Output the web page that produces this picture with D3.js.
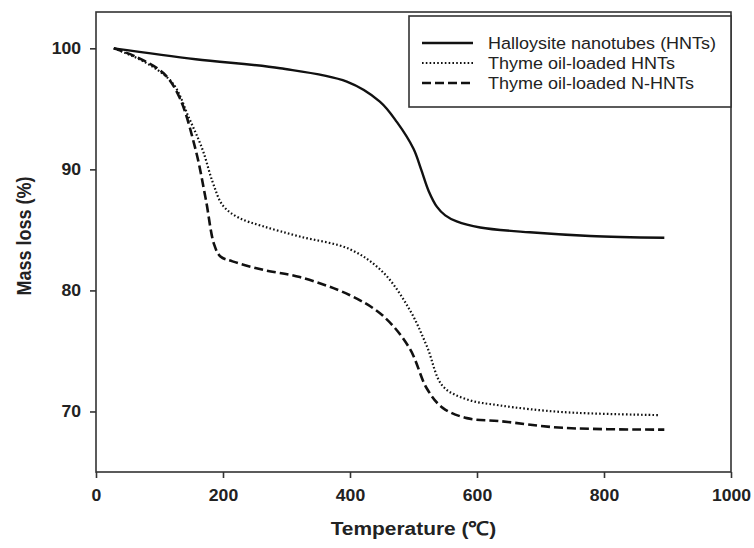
<!DOCTYPE html>
<html>
<head>
<meta charset="utf-8">
<script src="https://cdn.jsdelivr.net/npm/d3@7"></script>
<style>
  body { margin: 0; background: #fff; }
  text { font-family: Arial, "Liberation Sans", sans-serif; fill: #222; }
</style>
</head>
<body>
<svg id="chart" width="754" height="548"></svg>
<script>
// temperature (C) and mass (%)
const tHNT = [28, 157, 290, 395, 447, 474, 500, 512, 524, 537, 550, 568, 605, 683, 778, 895];
const mHNT = [100, 99.1, 98.35, 97.25, 95.6, 93.9, 91.7, 90.0, 88.2, 86.9, 86.2, 85.7, 85.2, 84.8, 84.5, 84.35];

const tOil = [28, 79, 121, 146, 168, 184, 200, 225, 263, 321, 400, 452, 494, 521, 546, 584, 636, 735, 888];
const mOil = [100, 98.8, 97.1, 94.3, 91.6, 88.9, 87.0, 86.0, 85.3, 84.45, 83.4, 81.5, 78.4, 75.4, 72.1, 71.0, 70.5, 69.95, 69.7];

const tOilN = [28, 63, 106, 131, 157, 173, 186, 196, 215, 263, 321, 400, 452, 494, 521, 546, 584, 636, 735, 895];
const mOilN = [100, 99.3, 97.96, 96.0, 91.6, 87.5, 83.8, 82.8, 82.4, 81.7, 81.1, 79.6, 77.9, 75.2, 71.9, 70.3, 69.45, 69.2, 68.65, 68.5];

const seriesNames = ['Halloysite nanotubes (HNTs)', 'Thyme oil-loaded HNTs', 'Thyme oil-loaded N-HNTs'];
const xTicks = [0, 200, 400, 600, 800, 1000];
const yTicks = [70, 80, 90, 100];

const svg = d3.select('#chart');
const pLeft = 96, pRight = 731, pTop = 12, pBottom = 472;
const stretch = 1.1; // the original picture is a bit wider than tall

const x = d3.scaleLinear().domain([0, 1000]).range([pLeft, pRight]);
const y = d3.scaleLinear().domain([65, 103]).range([pBottom, pTop]);

// frame
svg.append('rect')
  .attr('x', pLeft).attr('y', pTop)
  .attr('width', pRight - pLeft).attr('height', pBottom - pTop)
  .attr('fill', 'none').attr('stroke', '#333').attr('stroke-width', 1.6);

// axes
const xAxis = svg.append('g')
  .attr('transform', `translate(0,${pBottom})`)
  .call(d3.axisBottom(x).tickValues(xTicks).tickSize(6).tickPadding(12).tickFormat(d3.format('d')));
const yAxis = svg.append('g')
  .attr('transform', `translate(${pLeft},0)`)
  .call(d3.axisLeft(y).tickValues(yTicks).tickSize(6).tickPadding(9));
[xAxis, yAxis].forEach(g => {
  g.select('.domain').remove();
  g.selectAll('line').attr('stroke', '#333').attr('stroke-width', 1.6);
  g.selectAll('text')
    .style('font-size', '16px').style('font-weight', 'bold')
    .style('font-family', 'Arial, "Liberation Sans", sans-serif').attr('fill', '#222');
});
xAxis.selectAll('text').attr('transform', `scale(${stretch},1)`);
yAxis.selectAll('text').attr('transform', `scale(${stretch},1)`).attr('x', -15 / stretch);

// axis titles
svg.append('text')
  .attr('transform', `translate(${(pLeft + pRight) / 2},535) scale(${stretch},1)`)
  .attr('text-anchor', 'middle')
  .style('font-size', '19px').style('font-weight', 'bold')
  .text('Temperature (℃)');
svg.append('text')
  .attr('transform', `translate(31,236) rotate(-90) scale(1,${stretch})`)
  .attr('text-anchor', 'middle')
  .style('font-size', '18px').style('font-weight', 'bold')
  .text('Mass loss (%)');

// curves
const line = d3.line()
  .x(d => x(d[0]))
  .y(d => y(d[1]))
  .curve(d3.curveCatmullRom.alpha(0.5));

const series = [
  { t: tHNT, m: mHNT, dash: null, w: 2.4 },
  { t: tOil, m: mOil, dash: '1.6,2.2', w: 2.2 },
  { t: tOilN, m: mOilN, dash: '9,4', w: 2.6 }
];

series.forEach(s => {
  svg.append('path')
    .datum(d3.zip(s.t, s.m))
    .attr('d', line)
    .attr('fill', 'none')
    .attr('stroke', '#111')
    .attr('stroke-width', s.w)
    .attr('stroke-dasharray', s.dash);
});

// legend
const lg = svg.append('g');
lg.append('rect')
  .attr('x', 409).attr('y', 16)
  .attr('width', 322).attr('height', 91)
  .attr('fill', '#fff').attr('stroke', '#333').attr('stroke-width', 1.6);

seriesNames.forEach((name, i) => {
  const yy = 43 + i * 20;
  lg.append('line')
    .attr('x1', 422).attr('x2', 473)
    .attr('y1', yy).attr('y2', yy)
    .attr('stroke', '#111')
    .attr('stroke-width', series[i].w)
    .attr('stroke-dasharray', series[i].dash);
  lg.append('text')
    .attr('transform', `translate(488,${yy + 6}) scale(1.06,1)`)
    .style('font-size', '17px')
    .text(name);
});
</script>
</body>
</html>
